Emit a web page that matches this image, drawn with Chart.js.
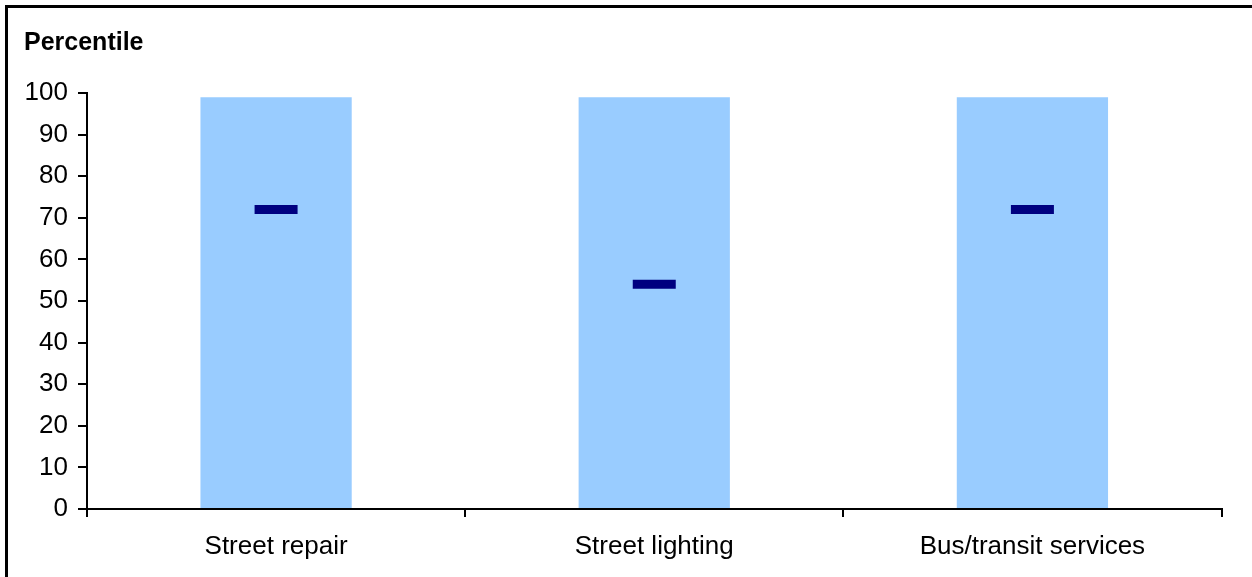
<!DOCTYPE html>
<html>
<head>
<meta charset="utf-8">
<title>Percentile</title>
<script src="https://cdn.jsdelivr.net/npm/chart.js@4/dist/chart.umd.min.js"></script>
<style>
    html, body { margin: 0; padding: 0; background: #fff; }
    #chart { display: block; }
</style>
</head>
<body>
<canvas id="chart" width="1252" height="577"></canvas>
<script>
// Chart data
const categories = ['Street repair', 'Street lighting', 'Bus/transit services'];
const rangeTop = [99, 99, 99];
const markerValues = [72, 54, 72];
const yMin = 0;
const yMax = 100;
const yStep = 10;

const titleText = 'Percentile';
const fontFamily = '"Liberation Sans", Arial, sans-serif';

Chart.defaults.color = '#000';
Chart.defaults.font.family = fontFamily;

// Frame + title drawn on the canvas
const framePlugin = {
    id: 'frame',
    afterDraw(chart) {
        const ctx = chart.ctx;
        ctx.save();
        ctx.fillStyle = '#000';
        ctx.fillRect(5, 5, 3, chart.height);
        ctx.fillRect(5, 5, chart.width, 3);
        ctx.font = 'bold 25px ' + fontFamily;
        ctx.textBaseline = 'middle';
        ctx.textAlign = 'left';
        ctx.fillText(titleText, 24, 43);
        ctx.restore();
    }
};

const ctx = document.getElementById('chart');
new Chart(ctx, {
    type: 'bar',
    data: {
        labels: categories,
        datasets: [
            {
                type: 'line',
                label: 'Median',
                data: markerValues,
                showLine: false,
                pointStyle: 'line',
                pointRadius: 21.5,
                pointHoverRadius: 21.5,
                pointBorderWidth: 9,
                pointHoverBorderWidth: 9,
                borderColor: '#000080',
                backgroundColor: '#000080',
                order: 0
            },
            {
                label: 'Range',
                data: rangeTop,
                backgroundColor: '#99CCFF',
                borderWidth: 0,
                barPercentage: 0.4,
                categoryPercentage: 1.0,
                order: 1
            }
        ]
    },
    options: {
        responsive: false,
        animation: false,
        events: [],
        layout: {
            padding: { left: 0, right: 29, top: 93, bottom: 0 }
        },
        plugins: {
            legend: { display: false },
            tooltip: { enabled: false },
            title: { display: false }
        },
        scales: {
            x: {
                offset: true,
                grid: {
                    offset: true,
                    drawOnChartArea: false,
                    drawTicks: true,
                    tickLength: 8,
                    color: '#000',
                    lineWidth: 2
                },
                border: { display: true, color: '#000', width: 2 },
                ticks: {
                    padding: 14,
                    font: { size: 26 },
                    maxRotation: 0
                },
                afterFit(scale) { scale.height = 68; }
            },
            y: {
                min: yMin,
                max: yMax,
                grid: {
                    drawOnChartArea: false,
                    drawTicks: true,
                    tickLength: 9,
                    color: '#000',
                    lineWidth: 2
                },
                border: { display: true, color: '#000', width: 2 },
                ticks: {
                    stepSize: yStep,
                    padding: 10,
                    font: { size: 26 }
                },
                afterFit(scale) { scale.width = 87; }
            }
        }
    },
    plugins: [framePlugin]
});
</script>
</body>
</html>
